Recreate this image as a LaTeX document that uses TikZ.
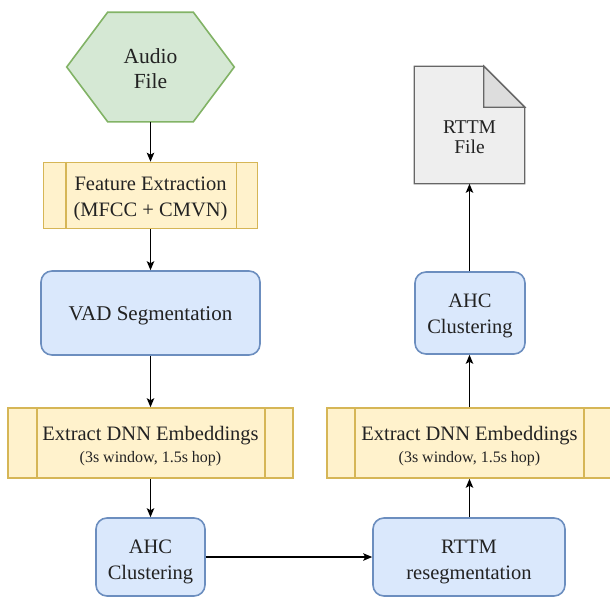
\documentclass[tikz,border=0pt]{standalone}
\usepackage{fontspec}
\setmainfont{Liberation Serif}
\usetikzlibrary{arrows.meta,calc}
\definecolor{greenfill}{HTML}{D5E8D4}
\definecolor{greenline}{HTML}{82B366}
\definecolor{yellowfill}{HTML}{FFF2CC}
\definecolor{yellowline}{HTML}{D6B656}
\definecolor{bluefill}{HTML}{DAE8FC}
\definecolor{blueline}{HTML}{6C8EBF}
\definecolor{docfill}{HTML}{EEEEEE}
\definecolor{docfold}{HTML}{DDDDDD}
\definecolor{docline}{HTML}{666666}
\definecolor{txt}{HTML}{222222}
\newcommand{\subline}{\fontsize{16}{18}\selectfont}
\begin{document}
\begin{tikzpicture}[x=1pt,y=-1pt,
  base/.style={font=\fontsize{20.5}{26}\selectfont, text=txt, align=center,
    line width=1.6pt, inner sep=0pt},
  rbox/.style={base, draw=blueline, fill=bluefill, rounded corners=11pt},
  ybox/.style={base, draw=yellowline, fill=yellowfill},
  flow/.style={-{Stealth[length=9pt,width=7.5pt,inset=2pt]}, line width=1.1pt, draw=black}]
\useasboundingbox (0,0) rectangle (610,597);

% Audio file: hexagon
\node[base, minimum width=166pt, minimum height=108pt] (audio) at (150.5,67) {};
\fill[greenfill, draw=greenline, line width=1.6pt, line join=miter]
  (audio.west) -- ($(audio.north west)+(41,0)$) -- ($(audio.north east)+(-41,0)$)
  -- (audio.east) -- ($(audio.south east)+(-41,0)$) -- ($(audio.south west)+(41,0)$) -- cycle;
\node[base, font=\fontsize{21.5}{25}\selectfont] at ($(audio.center)+(0,2)$) {Audio\\File};

% Feature extraction (process box with side bars)
\node[ybox, minimum width=214pt, minimum height=66pt] (feat) at (150.5,195.5) {};
\node[base] at ($(feat.center)+(0,3)$) {Feature Extraction\\(MFCC + CMVN)};
\draw[yellowline, line width=1.6pt] ($(feat.north west)+(23,0)$) -- ($(feat.south west)+(23,0)$)
  ($(feat.north east)+(-22,0)$) -- ($(feat.south east)+(-22,0)$);

% VAD segmentation
\node[rbox, minimum width=219pt, minimum height=84pt] (vad) at (150.5,313) {};
\node[base, font=\fontsize{21}{26}\selectfont] at ($(vad.center)+(0,3)$) {VAD Segmentation};

% Embedding extraction, first pass
\node[ybox, minimum width=285pt, minimum height=70pt] (emb1) at (150.5,443) {};
\node[base] at ($(emb1.center)+(0,3)$) {Extract DNN Embeddings\\[-4pt]{\subline (3s window, 1.5s hop)}};
\draw[yellowline, line width=1.6pt] ($(emb1.north west)+(29.5,0)$) -- ($(emb1.south west)+(29.5,0)$)
  ($(emb1.north east)+(-29,0)$) -- ($(emb1.south east)+(-29,0)$);

% First clustering
\node[rbox, minimum width=109pt, minimum height=78pt] (ahc1) at (150.5,557) {};
\node[base] at ($(ahc1.center)+(0,5)$) {AHC\\Clustering};

% Resegmentation
\node[rbox, minimum width=192pt, minimum height=78pt] (reseg) at (469,557) {};
\node[base] at ($(reseg.center)+(0,5)$) {RTTM\\resegmentation};

% Embedding extraction, second pass
\node[ybox, minimum width=285pt, minimum height=70pt] (emb2) at (469.5,443) {};
\node[base] at ($(emb2.center)+(0,3)$) {Extract DNN Embeddings\\[-4pt]{\subline (3s window, 1.5s hop)}};
\draw[yellowline, line width=1.6pt] ($(emb2.north west)+(29,0)$) -- ($(emb2.south west)+(29,0)$)
  ($(emb2.north east)+(-29,0)$) -- ($(emb2.south east)+(-29,0)$);

% Second clustering
\node[rbox, minimum width=110pt, minimum height=82pt] (ahc2) at (470,313) {};
\node[base] at ($(ahc2.center)+(0,3)$) {AHC\\Clustering};

% RTTM output document
\node[base, minimum width=109pt, minimum height=116pt] (rttm) at (469.5,125) {};
\filldraw[fill=docfill, draw=docline, line width=1.3pt, line join=miter]
  (rttm.north west) -- ($(rttm.north east)+(-41,0)$) -- ($(rttm.north east)+(0,41)$)
  -- (rttm.south east) -- (rttm.south west) -- cycle;
\filldraw[fill=docfold, draw=docline, line width=1.3pt, line join=miter]
  ($(rttm.north east)+(-41,0)$) -- ($(rttm.north east)+(-41,41)$) -- ($(rttm.north east)+(0,41)$) -- cycle;
\node[base, font=\fontsize{19.5}{20}\selectfont] at ($(rttm.center)+(0,12)$) {RTTM\\File};

% Connectors
\draw[flow] (audio) -- (feat);
\draw[flow] (feat) -- (vad);
\draw[flow] (vad) -- (emb1);
\draw[flow] (emb1) -- (ahc1);
\draw[flow] (ahc1) -- (reseg);
\draw[flow] (reseg.north -| emb2) -- (emb2);
\draw[flow] (emb2.north) -- (emb2.north |- ahc2.south);
\draw[flow] (ahc2.north -| emb2) -- (rttm.south -| emb2);
\end{tikzpicture}
\end{document}
